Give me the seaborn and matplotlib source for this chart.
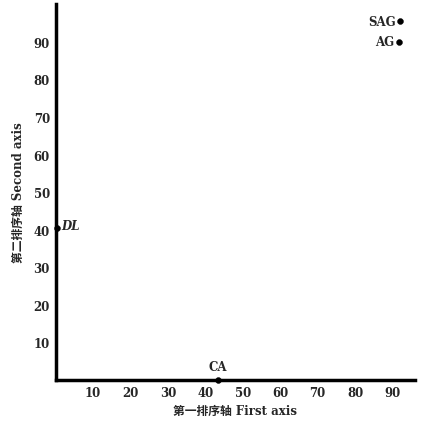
# Ordination plot: sample groups on the first two ordination axes

import pandas as pd
import seaborn as sns
import matplotlib.pyplot as plt

# -------------------Data --------------------

groups = ['SAG', 'AG', 'DL', 'CA']
first_axis = [92.0, 91.6, 0.5, 43.3]
second_axis = [95.5, 90.0, 40.4, 0.0]
ticks = [10, 20, 30, 40, 50, 60, 70, 80, 90]

df = pd.DataFrame({'group': groups, 'x': first_axis, 'y': second_axis})

# -------------------Plot --------------------

sns.set_style('white')
plt.rcParams['font.family'] = ['DejaVu Serif', 'Noto Sans CJK SC']
plt.rcParams['font.weight'] = 'bold'

fig = plt.figure(figsize=(4.27, 4.31), dpi=100)
ax = fig.add_axes([0.13, 0.116, 0.842, 0.872])

sns.scatterplot(data=df, x='x', y='y', ax=ax, color='black', s=18,
                edgecolor='black', clip_on=False, zorder=5, legend=False)

# label offsets for each point (in points)
offsets = {'SAG': (-3, 0, 'right', 'center'),
           'AG': (-3, 0, 'right', 'center'),
           'DL': (3, 2, 'left', 'center'),
           'CA': (0, 5, 'center', 'bottom')}
for g, x, y in zip(groups, first_axis, second_axis):
    dx, dy, ha, va = offsets[g]
    ax.annotate(g, (x, y), xytext=(dx, dy), textcoords='offset points',
                ha=ha, va=va, fontsize=8.5, fontweight='bold',
                style='italic' if g == 'DL' else 'normal')

ax.set_xlim(0, 96)
ax.set_ylim(0, 100)
ax.set_xticks(ticks)
ax.set_yticks(ticks)
ax.tick_params(direction='in', length=3, width=1.2, labelsize=8.5, pad=4)
for lab in ax.get_xticklabels() + ax.get_yticklabels():
    lab.set_fontweight('bold')

sns.despine(ax=ax)
for side in ['left', 'bottom']:
    ax.spines[side].set_linewidth(2.5)
    ax.spines[side].set_color('black')

ax.set_xlabel('第一排序轴 First axis', fontsize=8.5, fontweight='bold', labelpad=4)
ax.set_ylabel('第二排序轴 Second axis', fontsize=8.5, fontweight='bold', labelpad=6)

plt.savefig('out.png', dpi=100)
plt.close()
